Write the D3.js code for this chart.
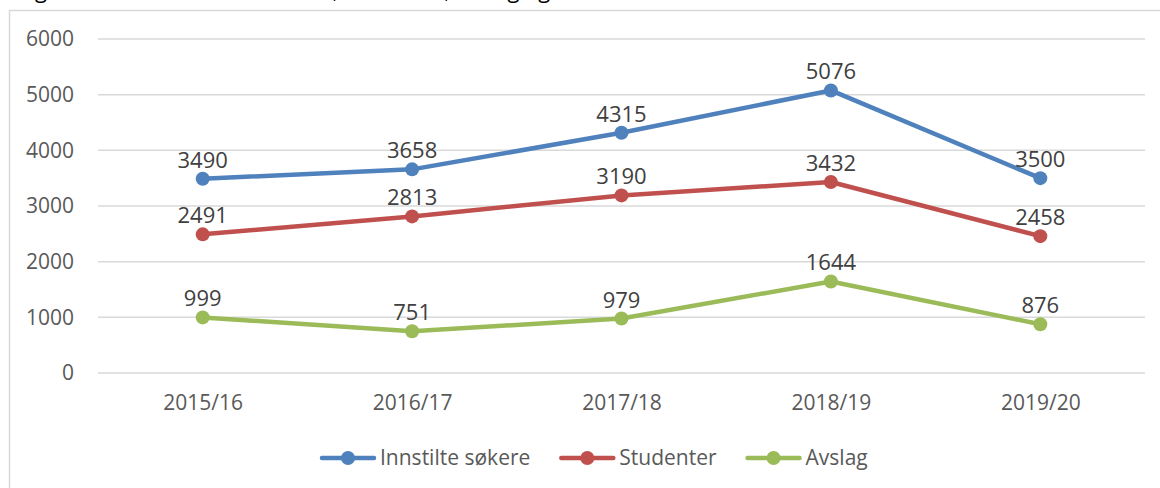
<!doctype html>
<html lang="no">
<head>
<meta charset="utf-8">
<title>Innstilte søkere, studenter og avslag</title>
<script src="https://d3js.org/d3.v7.min.js"></script>
<style>
  body { margin: 0; background: #fff; }
  svg text { font-family: "Open Sans", "Noto Sans", sans-serif; }
</style>
</head>
<body>
<svg id="main" width="1160" height="488"></svg>
<script>
// data
const years = ['2015/16', '2016/17', '2017/18', '2018/19', '2019/20'];
const innstilte = [3490, 3658, 4315, 5076, 3500];
const studenter = [2491, 2813, 3190, 3432, 2458];
const avslag = [999, 751, 979, 1644, 876];
const yTicks = [0, 1000, 2000, 3000, 4000, 5000, 6000];

const seriesNames = ['Innstilte søkere', 'Studenter', 'Avslag'];
const seriesColors = ['#4f81bd', '#c0504d', '#9bbb59'];
const seriesValues = [innstilte, studenter, avslag];

const svg = d3.select('#main');

// figure caption, mostly cut off at the top of the picture
svg.append('text')
  .attr('x', 18).attr('y', -2)
  .attr('font-size', 22).attr('fill', '#000')
  .text('Figur 3.1 Antall innstilte søkere, studenter, avslag og');

// chart area border
svg.append('rect')
  .attr('x', 9.5).attr('y', 10.5)
  .attr('width', 1200).attr('height', 500)
  .attr('fill', 'none').attr('stroke', '#d9d9d9').attr('stroke-width', 1.5);

const x = d3.scalePoint().domain(years).range([98, 1145]).padding(0.5);
const y = d3.scaleLinear().domain([0, 6000]).range([373, 39]);

// gridlines
svg.append('g')
  .selectAll('line').data(yTicks).join('line')
  .attr('x1', 98).attr('x2', 1145)
  .attr('y1', d => y(d)).attr('y2', d => y(d))
  .attr('stroke', '#d9d9d9').attr('stroke-width', 1.5);

// y axis labels
const yAxis = svg.append('g')
  .attr('transform', 'translate(80,0)')
  .call(d3.axisLeft(y).tickValues(yTicks).tickSize(0).tickPadding(6).tickFormat(d3.format('d')));
yAxis.select('.domain').remove();
yAxis.selectAll('text').attr('font-size', 21).attr('fill', '#595959')
  .attr('font-family', '"Open Sans", sans-serif');

// x axis labels
const xAxis = svg.append('g')
  .attr('transform', 'translate(0,383)')
  .call(d3.axisBottom(x).tickSize(0).tickPadding(12));
xAxis.select('.domain').remove();
xAxis.selectAll('text').attr('font-size', 21).attr('fill', '#595959')
  .attr('font-family', '"Open Sans", sans-serif');

const line = d3.line().x((d, i) => x(years[i])).y(d => y(d));

seriesValues.forEach((vals, s) => {
  const g = svg.append('g');
  g.append('path').datum(vals)
    .attr('d', line)
    .attr('fill', 'none')
    .attr('stroke', seriesColors[s])
    .attr('stroke-width', 4.5)
    .attr('stroke-linejoin', 'round')
    .attr('stroke-linecap', 'round');
  g.selectAll('circle').data(vals).join('circle')
    .attr('cx', (d, i) => x(years[i]))
    .attr('cy', d => y(d))
    .attr('r', 7)
    .attr('fill', seriesColors[s]);
  g.selectAll('text').data(vals).join('text')
    .attr('x', (d, i) => x(years[i]))
    .attr('y', d => y(d) - 11)
    .attr('text-anchor', 'middle')
    .attr('font-size', 22)
    .attr('fill', '#404040')
    .text(d => d);
});

// legend
const legend = svg.append('g').attr('transform', 'translate(322,458)');
let lx = 0;
seriesNames.forEach((name, s) => {
  const item = legend.append('g').attr('transform', `translate(${lx},0)`);
  item.append('line')
    .attr('x1', 0).attr('x2', 52)
    .attr('stroke', seriesColors[s]).attr('stroke-width', 4.5)
    .attr('stroke-linecap', 'round');
  item.append('circle').attr('cx', 26).attr('r', 7).attr('fill', seriesColors[s]);
  const t = item.append('text')
    .attr('x', 58).attr('dy', '0.35em')
    .attr('font-size', 21).attr('fill', '#595959')
    .text(name);
  lx += 58 + t.node().getComputedTextLength() + 31;
});
</script>
</body>
</html>
